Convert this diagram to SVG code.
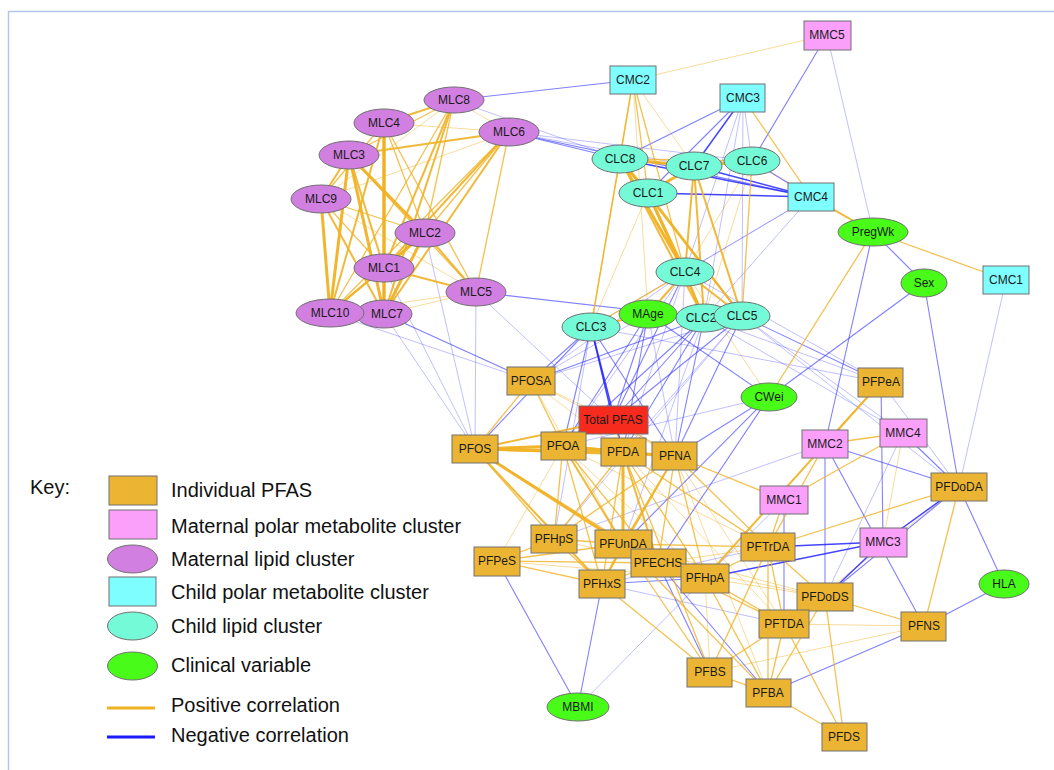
<svg xmlns="http://www.w3.org/2000/svg" width="1054" height="770" viewBox="0 0 1054 770">
<style>
.p3{stroke:#f0b123;stroke-width:3;stroke-opacity:.95}
.p2{stroke:#f0b123;stroke-width:2;stroke-opacity:.9}
.p1{stroke:#f0b123;stroke-width:1.3;stroke-opacity:.8}
.pf{stroke:#f0b123;stroke-width:1;stroke-opacity:.45}
.n2{stroke:#2323ff;stroke-width:1.5;stroke-opacity:.85}
.n1{stroke:#2b2bff;stroke-width:1.1;stroke-opacity:.6}
.nf{stroke:#3a3aff;stroke-width:1;stroke-opacity:.32}
.node ellipse,.node rect{stroke:#707070;stroke-width:1}
.mlc ellipse{fill:#d17fe0}
.clc ellipse{fill:#74fad6}
.clin ellipse{fill:#48fb18}
.cmc rect{fill:#7ffeff}
.mmc rect{fill:#fa9ffa}
.pfas rect{fill:#ebb533}
.tot rect{fill:#f72a1e}
.node text{font-family:"Liberation Sans",Arial,sans-serif;font-size:12px;fill:#1a1a1a;text-anchor:middle}
.key text{font-family:"Liberation Sans",Arial,sans-serif;font-size:20px;fill:#111}
.key rect,.key ellipse{stroke:#707070;stroke-width:1}
</style>
<rect x="0" y="0" width="1054" height="770" fill="#ffffff"/>
<path d="M8.5,770 V11.5 H1054" fill="none" stroke="#b3c6ea" stroke-width="1.5"/>
<g id="connectors">
<line class="pf" x1="384" y1="123" x2="509" y2="132"/>
<line class="pf" x1="454" y1="100" x2="321" y2="199"/>
<line class="pf" x1="454" y1="100" x2="509" y2="132"/>
<line class="pf" x1="321" y1="199" x2="476" y2="292"/>
<line class="pf" x1="321" y1="199" x2="509" y2="132"/>
<line class="pf" x1="476" y1="292" x2="384" y2="314"/>
<line class="pf" x1="476" y1="292" x2="330" y2="313"/>
<line class="pf" x1="648" y1="193" x2="591" y2="327"/>
<line class="pf" x1="752" y1="161" x2="704" y2="318"/>
<line class="pf" x1="752" y1="161" x2="685" y2="272"/>
<line class="pf" x1="633" y1="80" x2="648" y2="314"/>
<line class="pf" x1="633" y1="80" x2="694" y2="166"/>
<line class="pf" x1="633" y1="80" x2="827" y2="35"/>
<line class="pf" x1="752" y1="161" x2="873" y2="232"/>
<line class="pf" x1="685" y1="272" x2="769" y2="397"/>
<line class="pf" x1="531" y1="381" x2="623" y2="452"/>
<line class="pf" x1="531" y1="381" x2="675" y2="456"/>
<line class="pf" x1="531" y1="381" x2="613" y2="420"/>
<line class="pf" x1="531" y1="381" x2="623" y2="544"/>
<line class="pf" x1="563" y1="446" x2="497" y2="561"/>
<line class="pf" x1="563" y1="446" x2="705" y2="578"/>
<line class="pf" x1="563" y1="446" x2="768" y2="547"/>
<line class="pf" x1="623" y1="452" x2="784" y2="624"/>
<line class="pf" x1="675" y1="456" x2="784" y2="624"/>
<line class="pf" x1="675" y1="456" x2="768" y2="693"/>
<line class="pf" x1="623" y1="544" x2="825" y2="597"/>
<line class="pf" x1="554" y1="539" x2="658" y2="563"/>
<line class="pf" x1="658" y1="563" x2="768" y2="547"/>
<line class="pf" x1="705" y1="578" x2="710" y2="672"/>
<line class="pf" x1="903" y1="433" x2="883" y2="542"/>
<line class="pf" x1="959" y1="487" x2="784" y2="624"/>
<line class="pf" x1="784" y1="624" x2="924" y2="626"/>
<line class="pf" x1="710" y1="672" x2="924" y2="626"/>
<line class="pf" x1="705" y1="578" x2="825" y2="597"/>
<line class="pf" x1="658" y1="563" x2="825" y2="597"/>
<line class="pf" x1="497" y1="561" x2="705" y2="578"/>
<line class="nf" x1="454" y1="100" x2="620" y2="159"/>
<line class="nf" x1="509" y1="132" x2="694" y2="166"/>
<line class="nf" x1="509" y1="132" x2="752" y2="161"/>
<line class="nf" x1="476" y1="292" x2="475" y2="449"/>
<line class="nf" x1="476" y1="292" x2="613" y2="420"/>
<line class="nf" x1="384" y1="314" x2="475" y2="449"/>
<line class="nf" x1="384" y1="268" x2="475" y2="449"/>
<line class="nf" x1="425" y1="233" x2="475" y2="449"/>
<line class="nf" x1="330" y1="313" x2="531" y2="381"/>
<line class="nf" x1="743" y1="98" x2="685" y2="272"/>
<line class="nf" x1="743" y1="98" x2="704" y2="318"/>
<line class="nf" x1="743" y1="98" x2="752" y2="161"/>
<line class="nf" x1="743" y1="98" x2="742" y2="316"/>
<line class="nf" x1="811" y1="197" x2="685" y2="272"/>
<line class="nf" x1="811" y1="197" x2="591" y2="327"/>
<line class="nf" x1="811" y1="197" x2="704" y2="318"/>
<line class="nf" x1="827" y1="35" x2="873" y2="232"/>
<line class="nf" x1="1006" y1="280" x2="959" y2="487"/>
<line class="nf" x1="591" y1="327" x2="554" y2="539"/>
<line class="nf" x1="648" y1="314" x2="531" y2="381"/>
<line class="nf" x1="648" y1="314" x2="675" y2="456"/>
<line class="nf" x1="704" y1="318" x2="623" y2="544"/>
<line class="nf" x1="704" y1="318" x2="881" y2="382"/>
<line class="nf" x1="742" y1="316" x2="531" y2="381"/>
<line class="nf" x1="742" y1="316" x2="623" y2="452"/>
<line class="nf" x1="742" y1="316" x2="903" y2="433"/>
<line class="nf" x1="742" y1="316" x2="554" y2="539"/>
<line class="nf" x1="685" y1="272" x2="531" y2="381"/>
<line class="nf" x1="685" y1="272" x2="675" y2="456"/>
<line class="nf" x1="685" y1="272" x2="881" y2="382"/>
<line class="nf" x1="685" y1="272" x2="563" y2="446"/>
<line class="nf" x1="685" y1="272" x2="623" y2="452"/>
<line class="nf" x1="591" y1="327" x2="881" y2="382"/>
<line class="nf" x1="704" y1="318" x2="903" y2="433"/>
<line class="nf" x1="742" y1="316" x2="959" y2="487"/>
<line class="nf" x1="769" y1="397" x2="563" y2="446"/>
<line class="nf" x1="881" y1="382" x2="959" y2="487"/>
<line class="nf" x1="825" y1="444" x2="554" y2="539"/>
<line class="nf" x1="903" y1="433" x2="825" y2="597"/>
<line class="nf" x1="784" y1="500" x2="705" y2="578"/>
<line class="nf" x1="705" y1="578" x2="578" y2="707"/>
<line class="nf" x1="602" y1="584" x2="784" y2="624"/>
<line class="nf" x1="602" y1="584" x2="768" y2="547"/>
<line class="n1" x1="454" y1="100" x2="633" y2="80"/>
<line class="n1" x1="509" y1="132" x2="620" y2="159"/>
<line class="n1" x1="509" y1="132" x2="811" y2="197"/>
<line class="n1" x1="476" y1="292" x2="704" y2="318"/>
<line class="n1" x1="384" y1="314" x2="531" y2="381"/>
<line class="n1" x1="743" y1="98" x2="620" y2="159"/>
<line class="n1" x1="743" y1="98" x2="648" y2="193"/>
<line class="n1" x1="811" y1="197" x2="752" y2="161"/>
<line class="n1" x1="827" y1="35" x2="752" y2="161"/>
<line class="n1" x1="873" y1="232" x2="924" y2="283"/>
<line class="n1" x1="873" y1="232" x2="825" y2="444"/>
<line class="n1" x1="924" y1="283" x2="959" y2="487"/>
<line class="n1" x1="924" y1="283" x2="769" y2="397"/>
<line class="n1" x1="591" y1="327" x2="531" y2="381"/>
<line class="n1" x1="591" y1="327" x2="563" y2="446"/>
<line class="n1" x1="591" y1="327" x2="675" y2="456"/>
<line class="n1" x1="591" y1="327" x2="475" y2="449"/>
<line class="n1" x1="648" y1="314" x2="613" y2="420"/>
<line class="n1" x1="648" y1="314" x2="563" y2="446"/>
<line class="n1" x1="648" y1="314" x2="623" y2="452"/>
<line class="n1" x1="648" y1="314" x2="769" y2="397"/>
<line class="n1" x1="704" y1="318" x2="531" y2="381"/>
<line class="n1" x1="704" y1="318" x2="613" y2="420"/>
<line class="n1" x1="704" y1="318" x2="563" y2="446"/>
<line class="n1" x1="704" y1="318" x2="623" y2="452"/>
<line class="n1" x1="704" y1="318" x2="675" y2="456"/>
<line class="n1" x1="742" y1="316" x2="613" y2="420"/>
<line class="n1" x1="742" y1="316" x2="675" y2="456"/>
<line class="n1" x1="742" y1="316" x2="881" y2="382"/>
<line class="n1" x1="685" y1="272" x2="613" y2="420"/>
<line class="n1" x1="769" y1="397" x2="623" y2="544"/>
<line class="n1" x1="769" y1="397" x2="658" y2="563"/>
<line class="n1" x1="769" y1="397" x2="675" y2="456"/>
<line class="n1" x1="881" y1="382" x2="883" y2="542"/>
<line class="n1" x1="825" y1="444" x2="959" y2="487"/>
<line class="n1" x1="825" y1="444" x2="825" y2="597"/>
<line class="n1" x1="825" y1="444" x2="924" y2="626"/>
<line class="n1" x1="903" y1="433" x2="959" y2="487"/>
<line class="n1" x1="959" y1="487" x2="825" y2="597"/>
<line class="n1" x1="784" y1="500" x2="784" y2="624"/>
<line class="n1" x1="658" y1="563" x2="710" y2="672"/>
<line class="n1" x1="658" y1="563" x2="768" y2="693"/>
<line class="n1" x1="497" y1="561" x2="578" y2="707"/>
<line class="n1" x1="602" y1="584" x2="578" y2="707"/>
<line class="n1" x1="924" y1="626" x2="768" y2="693"/>
<line class="n1" x1="1004" y1="584" x2="924" y2="626"/>
<line class="n1" x1="1004" y1="584" x2="959" y2="487"/>
<line class="n1" x1="602" y1="584" x2="705" y2="578"/>
<line class="n2" x1="743" y1="98" x2="694" y2="166"/>
<line class="n2" x1="811" y1="197" x2="620" y2="159"/>
<line class="n2" x1="811" y1="197" x2="694" y2="166"/>
<line class="n2" x1="811" y1="197" x2="648" y2="193"/>
<line class="n2" x1="591" y1="327" x2="613" y2="420"/>
<line class="n2" x1="591" y1="327" x2="623" y2="452"/>
<line class="n2" x1="883" y1="542" x2="768" y2="547"/>
<line class="n2" x1="883" y1="542" x2="705" y2="578"/>
<line class="n2" x1="883" y1="542" x2="959" y2="487"/>
<line class="n2" x1="883" y1="542" x2="825" y2="597"/>
<line class="p1" x1="349" y1="155" x2="476" y2="292"/>
<line class="p1" x1="349" y1="155" x2="454" y2="100"/>
<line class="p1" x1="384" y1="123" x2="425" y2="233"/>
<line class="p1" x1="384" y1="123" x2="476" y2="292"/>
<line class="p1" x1="384" y1="123" x2="321" y2="199"/>
<line class="p1" x1="454" y1="100" x2="330" y2="313"/>
<line class="p1" x1="454" y1="100" x2="425" y2="233"/>
<line class="p1" x1="321" y1="199" x2="384" y2="268"/>
<line class="p1" x1="321" y1="199" x2="425" y2="233"/>
<line class="p1" x1="509" y1="132" x2="330" y2="313"/>
<line class="p1" x1="509" y1="132" x2="425" y2="233"/>
<line class="p1" x1="509" y1="132" x2="476" y2="292"/>
<line class="p1" x1="620" y1="159" x2="752" y2="161"/>
<line class="p1" x1="620" y1="159" x2="591" y2="327"/>
<line class="p1" x1="752" y1="161" x2="742" y2="316"/>
<line class="p1" x1="685" y1="272" x2="591" y2="327"/>
<line class="p1" x1="633" y1="80" x2="620" y2="159"/>
<line class="p1" x1="633" y1="80" x2="648" y2="193"/>
<line class="p1" x1="633" y1="80" x2="685" y2="272"/>
<line class="p1" x1="633" y1="80" x2="591" y2="327"/>
<line class="p1" x1="743" y1="98" x2="811" y2="197"/>
<line class="p1" x1="873" y1="232" x2="1006" y2="280"/>
<line class="p1" x1="873" y1="232" x2="769" y2="397"/>
<line class="p1" x1="475" y1="449" x2="531" y2="381"/>
<line class="p1" x1="475" y1="449" x2="554" y2="539"/>
<line class="p1" x1="475" y1="449" x2="658" y2="563"/>
<line class="p1" x1="531" y1="381" x2="563" y2="446"/>
<line class="p1" x1="563" y1="446" x2="613" y2="420"/>
<line class="p1" x1="563" y1="446" x2="554" y2="539"/>
<line class="p1" x1="563" y1="446" x2="602" y2="584"/>
<line class="p1" x1="563" y1="446" x2="658" y2="563"/>
<line class="p1" x1="623" y1="452" x2="613" y2="420"/>
<line class="p1" x1="623" y1="452" x2="602" y2="584"/>
<line class="p1" x1="623" y1="452" x2="705" y2="578"/>
<line class="p1" x1="623" y1="452" x2="768" y2="547"/>
<line class="p1" x1="623" y1="452" x2="710" y2="672"/>
<line class="p1" x1="623" y1="452" x2="554" y2="539"/>
<line class="p1" x1="675" y1="456" x2="613" y2="420"/>
<line class="p1" x1="675" y1="456" x2="554" y2="539"/>
<line class="p1" x1="675" y1="456" x2="602" y2="584"/>
<line class="p1" x1="675" y1="456" x2="658" y2="563"/>
<line class="p1" x1="675" y1="456" x2="705" y2="578"/>
<line class="p1" x1="675" y1="456" x2="768" y2="547"/>
<line class="p1" x1="675" y1="456" x2="784" y2="500"/>
<line class="p1" x1="623" y1="544" x2="554" y2="539"/>
<line class="p1" x1="623" y1="544" x2="768" y2="547"/>
<line class="p1" x1="623" y1="544" x2="705" y2="578"/>
<line class="p1" x1="623" y1="544" x2="784" y2="624"/>
<line class="p1" x1="623" y1="544" x2="710" y2="672"/>
<line class="p1" x1="623" y1="544" x2="497" y2="561"/>
<line class="p1" x1="623" y1="544" x2="768" y2="693"/>
<line class="p1" x1="554" y1="539" x2="602" y2="584"/>
<line class="p1" x1="554" y1="539" x2="497" y2="561"/>
<line class="p1" x1="497" y1="561" x2="602" y2="584"/>
<line class="p1" x1="497" y1="561" x2="658" y2="563"/>
<line class="p1" x1="602" y1="584" x2="658" y2="563"/>
<line class="p1" x1="602" y1="584" x2="710" y2="672"/>
<line class="p1" x1="658" y1="563" x2="705" y2="578"/>
<line class="p1" x1="705" y1="578" x2="768" y2="547"/>
<line class="p1" x1="705" y1="578" x2="784" y2="624"/>
<line class="p1" x1="705" y1="578" x2="768" y2="693"/>
<line class="p1" x1="768" y1="547" x2="784" y2="624"/>
<line class="p1" x1="768" y1="547" x2="825" y2="597"/>
<line class="p1" x1="768" y1="547" x2="768" y2="693"/>
<line class="p1" x1="768" y1="547" x2="710" y2="672"/>
<line class="p1" x1="768" y1="547" x2="959" y2="487"/>
<line class="p1" x1="768" y1="547" x2="825" y2="444"/>
<line class="p1" x1="768" y1="547" x2="784" y2="500"/>
<line class="p1" x1="784" y1="500" x2="903" y2="433"/>
<line class="p1" x1="881" y1="382" x2="825" y2="444"/>
<line class="p1" x1="825" y1="444" x2="903" y2="433"/>
<line class="p1" x1="959" y1="487" x2="924" y2="626"/>
<line class="p1" x1="825" y1="597" x2="924" y2="626"/>
<line class="p1" x1="825" y1="597" x2="844" y2="737"/>
<line class="p1" x1="784" y1="624" x2="844" y2="737"/>
<line class="p1" x1="768" y1="693" x2="844" y2="737"/>
<line class="p1" x1="784" y1="624" x2="768" y2="693"/>
<line class="p1" x1="784" y1="624" x2="710" y2="672"/>
<line class="p1" x1="825" y1="597" x2="784" y2="624"/>
<line class="p1" x1="825" y1="597" x2="768" y2="693"/>
<line class="p1" x1="710" y1="672" x2="768" y2="693"/>
<line class="p2" x1="349" y1="155" x2="384" y2="268"/>
<line class="p2" x1="349" y1="155" x2="321" y2="199"/>
<line class="p2" x1="349" y1="155" x2="509" y2="132"/>
<line class="p2" x1="384" y1="123" x2="454" y2="100"/>
<line class="p2" x1="384" y1="123" x2="330" y2="313"/>
<line class="p2" x1="454" y1="100" x2="384" y2="268"/>
<line class="p2" x1="454" y1="100" x2="384" y2="314"/>
<line class="p2" x1="321" y1="199" x2="384" y2="314"/>
<line class="p2" x1="509" y1="132" x2="384" y2="268"/>
<line class="p2" x1="509" y1="132" x2="384" y2="314"/>
<line class="p2" x1="425" y1="233" x2="330" y2="313"/>
<line class="p2" x1="425" y1="233" x2="476" y2="292"/>
<line class="p2" x1="384" y1="268" x2="476" y2="292"/>
<line class="p2" x1="384" y1="268" x2="330" y2="313"/>
<line class="p2" x1="620" y1="159" x2="704" y2="318"/>
<line class="p2" x1="620" y1="159" x2="742" y2="316"/>
<line class="p2" x1="694" y1="166" x2="685" y2="272"/>
<line class="p2" x1="694" y1="166" x2="704" y2="318"/>
<line class="p2" x1="694" y1="166" x2="742" y2="316"/>
<line class="p2" x1="648" y1="193" x2="704" y2="318"/>
<line class="p2" x1="648" y1="193" x2="742" y2="316"/>
<line class="p2" x1="685" y1="272" x2="704" y2="318"/>
<line class="p2" x1="685" y1="272" x2="742" y2="316"/>
<line class="p2" x1="685" y1="272" x2="648" y2="314"/>
<line class="p2" x1="648" y1="314" x2="591" y2="327"/>
<line class="p2" x1="811" y1="197" x2="873" y2="232"/>
<line class="p2" x1="475" y1="449" x2="613" y2="420"/>
<line class="p2" x1="475" y1="449" x2="675" y2="456"/>
<line class="p2" x1="475" y1="449" x2="602" y2="584"/>
<line class="p2" x1="563" y1="446" x2="675" y2="456"/>
<line class="p2" x1="563" y1="446" x2="623" y2="544"/>
<line class="p2" x1="623" y1="452" x2="675" y2="456"/>
<line class="p2" x1="623" y1="452" x2="658" y2="563"/>
<line class="p2" x1="675" y1="456" x2="623" y2="544"/>
<line class="p2" x1="623" y1="544" x2="602" y2="584"/>
<line class="p2" x1="881" y1="382" x2="705" y2="578"/>
<line class="p3" x1="349" y1="155" x2="330" y2="313"/>
<line class="p3" x1="349" y1="155" x2="384" y2="314"/>
<line class="p3" x1="349" y1="155" x2="425" y2="233"/>
<line class="p3" x1="384" y1="123" x2="384" y2="268"/>
<line class="p3" x1="384" y1="123" x2="384" y2="314"/>
<line class="p3" x1="321" y1="199" x2="330" y2="313"/>
<line class="p3" x1="425" y1="233" x2="384" y2="268"/>
<line class="p3" x1="425" y1="233" x2="384" y2="314"/>
<line class="p3" x1="384" y1="268" x2="384" y2="314"/>
<line class="p3" x1="620" y1="159" x2="694" y2="166"/>
<line class="p3" x1="620" y1="159" x2="648" y2="193"/>
<line class="p3" x1="620" y1="159" x2="685" y2="272"/>
<line class="p3" x1="694" y1="166" x2="752" y2="161"/>
<line class="p3" x1="694" y1="166" x2="648" y2="193"/>
<line class="p3" x1="648" y1="193" x2="685" y2="272"/>
<line class="p3" x1="475" y1="449" x2="563" y2="446"/>
<line class="p3" x1="475" y1="449" x2="623" y2="452"/>
<line class="p3" x1="475" y1="449" x2="623" y2="544"/>
<line class="p3" x1="563" y1="446" x2="623" y2="452"/>
<line class="p3" x1="623" y1="452" x2="623" y2="544"/>
</g>
<g id="nodes">
<g id="MLC8" class="node mlc"><ellipse cx="454" cy="100" rx="30" ry="13"/><text x="454" y="104">MLC8</text></g>
<g id="MLC4" class="node mlc"><ellipse cx="384" cy="123" rx="30" ry="14"/><text x="384" y="127">MLC4</text></g>
<g id="MLC6" class="node mlc"><ellipse cx="509" cy="132" rx="30" ry="14"/><text x="509" y="136">MLC6</text></g>
<g id="MLC3" class="node mlc"><ellipse cx="349" cy="155" rx="30" ry="14"/><text x="349" y="159">MLC3</text></g>
<g id="MLC9" class="node mlc"><ellipse cx="321" cy="199" rx="30" ry="14"/><text x="321" y="203">MLC9</text></g>
<g id="MLC2" class="node mlc"><ellipse cx="425" cy="233" rx="30" ry="14"/><text x="425" y="237">MLC2</text></g>
<g id="MLC1" class="node mlc"><ellipse cx="384" cy="268" rx="30" ry="14"/><text x="384" y="272">MLC1</text></g>
<g id="MLC5" class="node mlc"><ellipse cx="476" cy="292" rx="30" ry="14"/><text x="476" y="296">MLC5</text></g>
<g id="MLC7" class="node mlc"><ellipse cx="384" cy="314" rx="28" ry="14"/><text x="387" y="318">MLC7</text></g>
<g id="MLC10" class="node mlc"><ellipse cx="330" cy="313" rx="34" ry="14"/><text x="330" y="317">MLC10</text></g>
<g id="CMC2" class="node cmc"><rect x="610" y="66" width="46" height="28"/><text x="633" y="84">CMC2</text></g>
<g id="CMC3" class="node cmc"><rect x="720" y="84" width="45" height="28"/><text x="743" y="102">CMC3</text></g>
<g id="MMC5" class="node mmc"><rect x="804" y="21" width="47" height="29"/><text x="827" y="39">MMC5</text></g>
<g id="CMC4" class="node cmc"><rect x="788" y="183" width="46" height="28"/><text x="811" y="201">CMC4</text></g>
<g id="CMC1" class="node cmc"><rect x="983" y="266" width="46" height="28"/><text x="1006" y="284">CMC1</text></g>
<g id="CLC8" class="node clc"><ellipse cx="620" cy="159" rx="28" ry="14"/><text x="620" y="163">CLC8</text></g>
<g id="CLC7" class="node clc"><ellipse cx="694" cy="166" rx="28" ry="14"/><text x="694" y="170">CLC7</text></g>
<g id="CLC6" class="node clc"><ellipse cx="752" cy="161" rx="28" ry="14"/><text x="752" y="165">CLC6</text></g>
<g id="CLC1" class="node clc"><ellipse cx="648" cy="193" rx="29" ry="14"/><text x="648" y="197">CLC1</text></g>
<g id="CLC4" class="node clc"><ellipse cx="685" cy="272" rx="29" ry="14"/><text x="685" y="276">CLC4</text></g>
<g id="CLC3" class="node clc"><ellipse cx="591" cy="327" rx="29" ry="14"/><text x="591" y="331">CLC3</text></g>
<g id="MAge" class="node clin"><ellipse cx="648" cy="314" rx="29" ry="14"/><text x="648" y="318">MAge</text></g>
<g id="CLC2" class="node clc"><ellipse cx="704" cy="318" rx="28" ry="14"/><text x="701" y="322">CLC2</text></g>
<g id="CLC5" class="node clc"><ellipse cx="742" cy="316" rx="28" ry="14"/><text x="742" y="320">CLC5</text></g>
<g id="CWei" class="node clin"><ellipse cx="769" cy="397" rx="28" ry="14"/><text x="769" y="401">CWei</text></g>
<g id="PregWk" class="node clin"><ellipse cx="873" cy="232" rx="35" ry="14"/><text x="873" y="236">PregWk</text></g>
<g id="Sex" class="node clin"><ellipse cx="924" cy="283" rx="23" ry="14"/><text x="924" y="287">Sex</text></g>
<g id="HLA" class="node clin"><ellipse cx="1004" cy="584" rx="25" ry="14"/><text x="1004" y="588">HLA</text></g>
<g id="MBMI" class="node clin"><ellipse cx="578" cy="707" rx="31" ry="14"/><text x="578" y="711">MBMI</text></g>
<g id="PFOSA" class="node pfas"><rect x="507" y="367" width="48" height="28"/><text x="531" y="385">PFOSA</text></g>
<g id="TotalPFAS" class="node tot"><rect x="579" y="406" width="69" height="28"/><text x="613" y="424">Total PFAS</text></g>
<g id="PFOS" class="node pfas"><rect x="452" y="435" width="46" height="28"/><text x="475" y="453">PFOS</text></g>
<g id="PFOA" class="node pfas"><rect x="541" y="432" width="45" height="28"/><text x="563" y="450">PFOA</text></g>
<g id="PFDA" class="node pfas"><rect x="601" y="438" width="45" height="28"/><text x="623" y="456">PFDA</text></g>
<g id="PFNA" class="node pfas"><rect x="652" y="442" width="45" height="28"/><text x="675" y="460">PFNA</text></g>
<g id="PFHpS" class="node pfas"><rect x="531" y="525" width="46" height="28"/><text x="554" y="543">PFHpS</text></g>
<g id="PFUnDA" class="node pfas"><rect x="595" y="530" width="57" height="28"/><text x="623" y="548">PFUnDA</text></g>
<g id="PFPeS" class="node pfas"><rect x="474" y="547" width="46" height="29"/><text x="497" y="565">PFPeS</text></g>
<g id="PFECHS" class="node pfas"><rect x="631" y="549" width="55" height="28"/><text x="658" y="567">PFECHS</text></g>
<g id="PFHxS" class="node pfas"><rect x="579" y="570" width="46" height="28"/><text x="602" y="588">PFHxS</text></g>
<g id="PFHpA" class="node pfas"><rect x="681" y="564" width="48" height="29"/><text x="705" y="582">PFHpA</text></g>
<g id="PFBS" class="node pfas"><rect x="687" y="658" width="45" height="29"/><text x="710" y="676">PFBS</text></g>
<g id="PFBA" class="node pfas"><rect x="746" y="679" width="45" height="28"/><text x="768" y="697">PFBA</text></g>
<g id="PFPeA" class="node pfas"><rect x="858" y="368" width="45" height="29"/><text x="881" y="386">PFPeA</text></g>
<g id="MMC2" class="node mmc"><rect x="802" y="430" width="46" height="28"/><text x="825" y="448">MMC2</text></g>
<g id="MMC4" class="node mmc"><rect x="880" y="419" width="47" height="28"/><text x="903" y="437">MMC4</text></g>
<g id="PFDoDA" class="node pfas"><rect x="931" y="473" width="56" height="28"/><text x="959" y="491">PFDoDA</text></g>
<g id="MMC1" class="node mmc"><rect x="760" y="486" width="48" height="28"/><text x="784" y="504">MMC1</text></g>
<g id="PFTrDA" class="node pfas"><rect x="741" y="533" width="54" height="28"/><text x="768" y="551">PFTrDA</text></g>
<g id="MMC3" class="node mmc"><rect x="860" y="528" width="47" height="29"/><text x="883" y="546">MMC3</text></g>
<g id="PFDoDS" class="node pfas"><rect x="797" y="583" width="56" height="28"/><text x="825" y="601">PFDoDS</text></g>
<g id="PFTDA" class="node pfas"><rect x="759" y="610" width="50" height="28"/><text x="784" y="628">PFTDA</text></g>
<g id="PFNS" class="node pfas"><rect x="901" y="612" width="45" height="29"/><text x="924" y="630">PFNS</text></g>
<g id="PFDS" class="node pfas"><rect x="822" y="723" width="45" height="28"/><text x="844" y="741">PFDS</text></g>
</g>
<g id="key" class="key">
<text x="30" y="494">Key:</text>
<rect x="109" y="476" width="48" height="29" fill="#ebb533"/>
<text x="171" y="497">Individual PFAS</text>
<rect x="109" y="510" width="48" height="29" fill="#fa9ffa"/>
<text x="171" y="533">Maternal polar metabolite cluster</text>
<ellipse cx="132.5" cy="559" rx="25" ry="14" fill="#d17fe0"/>
<text x="171" y="566">Maternal lipid cluster</text>
<rect x="109" y="577" width="47" height="29" fill="#7ffeff"/>
<text x="171" y="599">Child polar metabolite cluster</text>
<ellipse cx="132.5" cy="626" rx="25" ry="14" fill="#74fad6"/>
<text x="171" y="633">Child lipid cluster</text>
<ellipse cx="132.5" cy="666" rx="25" ry="14" fill="#48fb18"/>
<text x="171" y="672">Clinical variable</text>
<line x1="107" y1="708" x2="155" y2="708" stroke="#f0b123" stroke-width="3"/>
<text x="171" y="712">Positive correlation</text>
<line x1="107" y1="737" x2="155" y2="737" stroke="#1a1aff" stroke-width="3"/>
<text x="171" y="742">Negative correlation</text>
</g>
</svg>
